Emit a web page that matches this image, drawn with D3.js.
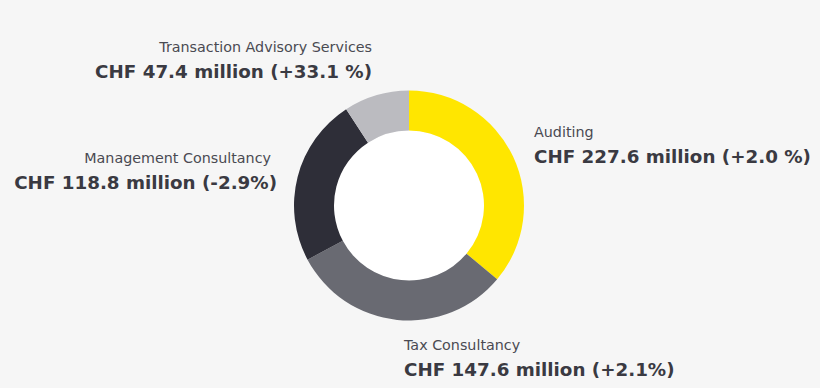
<!DOCTYPE html>
<html>
<head>
<meta charset="utf-8">
<script src="https://cdn.jsdelivr.net/npm/d3@7"></script>
<style>
  html, body { margin: 0; padding: 0; background: #f6f6f6; }
  svg { display: block; }
  .name { font-family: "DejaVu Sans", sans-serif; font-size: 14.3px; fill: #4a4a52; }
  .value { font-family: "DejaVu Sans", sans-serif; font-size: 18.3px; font-weight: bold; fill: #3a3a42; }
</style>
</head>
<body>
<svg id="chart" width="820" height="388"></svg>
<script>
'use strict';

// Segments clockwise from 12 o'clock
var segments = ['Auditing', 'Tax Consultancy', 'Management Consultancy', 'Transaction Advisory Services'];
var amounts = [227.6, 147.6, 118.8, 47.4];          // CHF million
var changes = ['+2.0 %', '+2.1%', '-2.9%', '+33.1 %'];
// slice sizes as drawn in the picture (percent of ring), not proportional to amounts
var shares = [36.1, 31.1, 23.6, 9.2];
var colors = ['#ffe600', '#696a72', '#2e2e38', '#bbbbc0'];

// label anchor per segment: x of name, x of value, baseline of name line, text-anchor
var labelPos = [
  { x: 534, vx: 534, y: 137, anchor: 'start' },
  { x: 404, vx: 404, y: 350, anchor: 'start' },
  { x: 271, vx: 277, y: 163, anchor: 'end' },
  { x: 372, vx: 372, y: 52, anchor: 'end' }
];

var svg = d3.select('#chart');
var cx = 409, cy = 205.5;

var pie = d3.pie().sort(null).value(function(d) { return d; });
var arc = d3.arc().innerRadius(75).outerRadius(115);

var ring = svg.append('g').attr('transform', 'translate(' + cx + ',' + cy + ')');

ring.append('circle').attr('r', 75).attr('fill', '#ffffff');

ring.selectAll('path.slice')
  .data(pie(shares))
  .enter().append('path')
  .attr('class', 'slice')
  .attr('d', arc)
  .attr('fill', function(d, i) { return colors[i]; });

var labels = svg.selectAll('g.label')
  .data(segments)
  .enter().append('g')
  .attr('class', 'label');

labels.append('text')
  .attr('class', 'name')
  .attr('x', function(d, i) { return labelPos[i].x; })
  .attr('y', function(d, i) { return labelPos[i].y; })
  .attr('text-anchor', function(d, i) { return labelPos[i].anchor; })
  .text(function(d) { return d; });

labels.append('text')
  .attr('class', 'value')
  .attr('x', function(d, i) { return labelPos[i].vx; })
  .attr('y', function(d, i) { return labelPos[i].y + 26; })
  .attr('text-anchor', function(d, i) { return labelPos[i].anchor; })
  .text(function(d, i) { return 'CHF ' + amounts[i].toFixed(1) + ' million (' + changes[i] + ')'; });
</script>
</body>
</html>
